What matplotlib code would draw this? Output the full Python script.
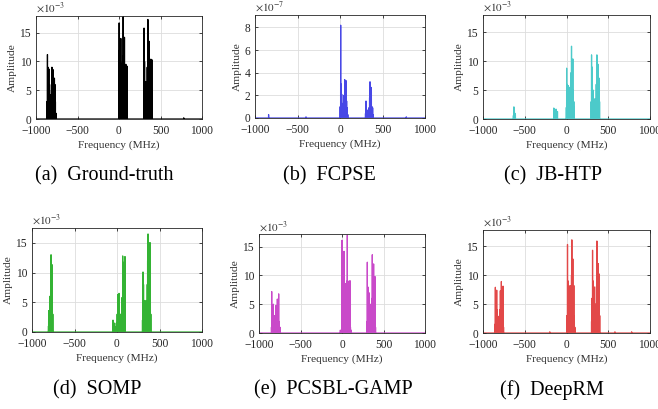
import numpy as np
import matplotlib
matplotlib.use('Agg')
import matplotlib.pyplot as plt

plt.rcParams['font.family'] = ['Liberation Serif', 'DejaVu Serif']
plt.rcParams['mathtext.fontset'] = 'stix'

# spike positions (MHz) and amplitudes for each method
gt_freq = [-868, -862, -856, -850, -845, -838, -832, -826, -820, -814, -808, -802, -796, -790, -784, -778, -772, -766, -760,
           -2, 2, 7, 12, 17, 22, 27, 32, 38, 44, 50, 55, 60, 66, 71, 77, 83, 88, 95, 100,
           298, 302, 308, 314, 320, 326, 332, 340, 348, 353, 358, 364, 370, 378, 384, 390, 396, 400, 780]
gt_amp = [3, 11.2, 9, 6, 8.7, 5, 2.5, 4.2, 3, 6, 9.0, 7, 8.6, 5, 4, 7.1, 6, 3, 1,
          2, 16.7, 12, 5, 10, 14.0, 8, 4, 9.5, 6, 17.8, 11, 7, 14.2, 9, 5, 9.5, 6, 9.2, 3,
          4, 15.8, 10, 4, 6.5, 3, 5, 9, 17.3, 12, 6, 13.5, 7, 4, 10.4, 6, 10.3, 2, 0.2]

fcpse_freq = [-840, -400, 2, 8, 14, 20, 28, 36, 44, 50, 55, 62, 71, 78, 86, 92,
              300, 306, 314, 322, 330, 340, 348, 353, 360, 369, 376, 384, 390, 780]
fcpse_amp = [0.3, 0.1, 1.0, 8.2, 3.0, 2.1, 1.0, 1.3, 2.0, 1.2, 3.4, 1.5, 3.3, 1.5, 0.9, 0.3,
             0.4, 1.5, 0.5, 0.7, 0.3, 0.9, 1.8, 3.2, 1.2, 2.7, 1.0, 0.9, 0.3, 0.1]

jbhtp_freq = [-636, -630, -624, -618, -612, -152, -148, -140, -132, -124, -116, -108,
              -2, 2, 8, 14, 20, 26, 32, 40, 48, 54, 60, 66, 72, 76, 82, 88, 92,
              296, 300, 306, 312, 320, 328, 334, 340, 348, 356, 364, 370, 376, 380, 388, 396]
jbhtp_amp = [0.6, 2.1, 1.5, 1.0, 0.7, 1.9, 1.8, 1.7, 1.5, 1.7, 1.0, 1.3,
             2, 8.8, 6, 3, 5.8, 4, 2, 5.5, 3, 8, 12.6, 7, 5, 10.4, 5, 3, 2.0,
             3, 11.1, 9, 4, 5.0, 3, 2, 3.5, 2, 6, 11.1, 8, 9.5, 5, 7.1, 3]

somp_freq = [-806, -804, -798, -792, -786, -780, -776, -770, -764, -761, -755,
             -50, -47, -40, -34, -27, -20, -12, -4, 2, 8, 14, 20, 24, 30, 36, 43, 50, 56, 59, 64, 67, 74, 80, 86, 90, 94,
             300, 306, 312, 318, 322, 330, 336, 341, 348, 356, 360, 365, 372, 378, 384, 388, 392, 398]
somp_amp = [1, 3.6, 2, 6.0, 4, 8, 13.0, 9, 5, 11.3, 3,
            0.5, 2.0, 1.5, 1.0, 1.5, 0.8, 0.9, 1.5, 3, 6.3, 3, 5, 6.5, 2, 1.5, 3.0, 1, 4, 5.8, 3, 12.8, 6, 4, 11.8, 5, 12.7,
            2, 10.1, 8, 4, 5.3, 2, 3, 5.3, 4, 8, 12, 16.5, 10, 7, 15.0, 8, 15.0, 3]

pcsbl_freq = [-850, -847, -840, -833, -827, -820, -815, -811, -805, -800, -795, -788, -779, -772, -767, -763, -755, -747,
              -20, -10, -2, 0, 6, 12, 18, 24, 30, 38, 44, 50, 56, 64, 70, 75, 80, 86, 92, 96, 102, 110,
              300, 305, 312, 318, 325, 332, 338, 345, 352, 358, 365, 370, 376, 381, 388, 394, 398, 404]
pcsbl_amp = [1, 7.2, 4, 3, 5.0, 2, 3, 2.3, 1.5, 3, 4.8, 2, 5.9, 3, 4, 6.8, 2, 1.0,
             0.5, 0.4, 3, 16.1, 10, 6, 9, 14.2, 5, 3, 8.6, 4, 9, 17.0, 8, 5, 9.0, 4, 3, 9.1, 1, 0.5,
             2, 12.3, 8, 4, 7.0, 3, 2, 5.0, 3, 6, 13.6, 9, 7, 12.0, 5, 4, 9.8, 1]

deeprm_freq = [-858, -852, -846, -840, -836, -828, -820, -812, -804, -798, -792, -786, -780, -772, -766, -760, -754,
               -200, 4, 12, 18, 24, 28, 34, 40, 48, 54, 60, 64, 70, 76, 82, 88, 94, 100,
               300, 306, 312, 318, 322, 328, 334, 340, 348, 354, 358, 364, 370, 376, 380, 386, 392, 398, 580, 780]
deeprm_amp = [1.5, 7.9, 5, 3, 7.4, 4, 2.9, 2, 1.5, 4, 7.3, 5, 8.9, 5, 4, 8.1, 1,
              0.2, 3, 15.3, 9, 6, 8.2, 4, 3, 8.2, 5, 10, 16.1, 7, 12.8, 5, 8.2, 3, 1,
              2, 6, 14.3, 9, 4, 8.0, 3, 2, 5.0, 3, 8, 15.9, 11, 9, 12.0, 5, 10.2, 3, 0.2, 0.2]

captions = ['(a)  Ground-truth', '(b)  FCPSE', '(c)  JB-HTP',
            '(d)  SOMP', '(e)  PCSBL-GAMP', '(f)  DeepRM']
exponents = [-3, -7, -3, -3, -3, -3]
ylims = [17.9, 9.1, 18.0, 17.5, 17.2, 17.8]
yticks = [[0, 5, 10, 15], [0, 2, 4, 6, 8], [0, 5, 10, 15],
          [0, 5, 10, 15], [0, 5, 10, 15], [0, 5, 10, 15]]
colors = ['black', '#4848e6', '#4ccaca', '#34b334', '#c94ac9', '#e24848']
spectra = [(gt_freq, gt_amp), (fcpse_freq, fcpse_amp), (jbhtp_freq, jbhtp_amp),
           (somp_freq, somp_amp), (pcsbl_freq, pcsbl_amp), (deeprm_freq, deeprm_amp)]

# axes boxes in pixels: left, right, top, bottom
boxes = [(36, 202, 16, 119), (255, 425, 15, 118), (483, 650, 15, 119),
         (32, 202, 228, 332), (259, 425, 234, 333), (483, 650, 230, 333)]
caption_pos = [(104, 176), (329, 176), (553, 176), (97, 390), (333, 390), (552, 390)]

W, H = 658, 409
fig = plt.figure(figsize=(W / 100, H / 100), dpi=100)


def spike_line(freq, amp):
    # each spike drawn as a narrow peak rising from zero
    xs = [-1000]
    ys = [0]
    for f, a in sorted(zip(freq, amp)):
        xs += [f - 1, f, f + 1]
        ys += [0, a, 0]
    xs.append(1000)
    ys.append(0)
    return np.array(xs), np.array(ys)


for i in range(6):
    l, r, t, b = boxes[i]
    ax = fig.add_axes([l / W, 1 - b / H, (r - l) / W, (b - t) / H])
    x, y = spike_line(*spectra[i])
    ax.plot(x, y, color=colors[i], lw=0.9)
    ax.set_xlim(-1000, 1000)
    ax.set_ylim(0, ylims[i])
    ax.set_xticks([-1000, -500, 0, 500, 1000])
    ax.set_yticks(yticks[i])
    ax.grid(True, color='#dddddd', lw=0.6)
    ax.set_axisbelow(True)
    ax.tick_params(direction='in', length=2, width=0.5, labelsize=8.3,
                   top=True, right=True, labelcolor='#262626')
    ax.tick_params(axis='x', pad=4.5)
    ax.tick_params(axis='y', pad=3.5)
    for s in ax.spines.values():
        s.set_linewidth(0.6)
        s.set_color('#262626')
    ax.set_xlabel('Frequency (MHz)', fontsize=8.2, labelpad=2.5, color='#333333')
    ax.set_ylabel('Amplitude', fontsize=8.2, labelpad=2, color='#333333')
    ax.text(0, 1.005, r'$\times10^{%d}$' % exponents[i], transform=ax.transAxes,
            fontsize=8, ha='left', va='bottom', color='#333333')
    cx, cy = caption_pos[i]
    fig.text(cx / W, 1 - cy / H, captions[i], fontsize=14.5, ha='center', va='center')

fig.savefig('out.png', dpi=100)
